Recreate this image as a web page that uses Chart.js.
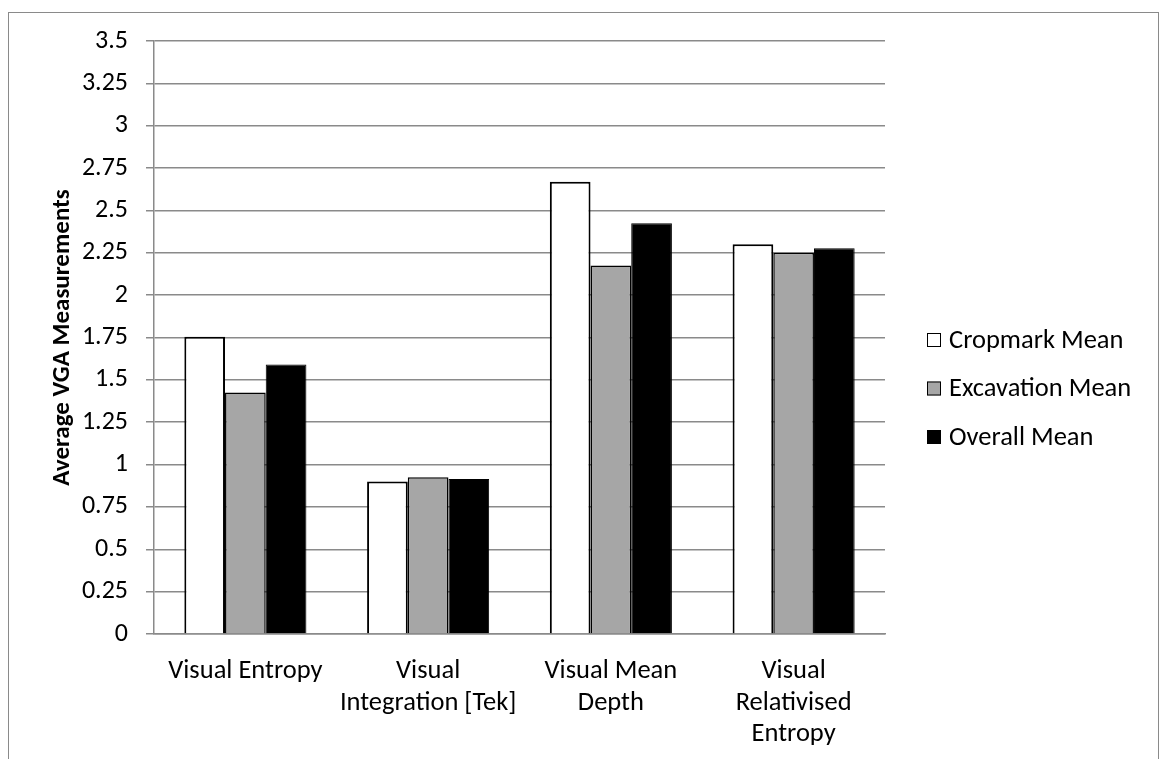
<!DOCTYPE html>
<html>
<head>
    <title>Average VGA Measurements</title>
    <script src="https://cdn.jsdelivr.net/npm/chart.js"></script>
    <style>
        body { margin: 0; background: #fff; overflow: hidden; }
        #frame { position: absolute; left: 8px; top: 12px; width: 1149px; height: 800px; border: 1.5px solid #8a8a8a; }
        #wrap { position: absolute; left: 0; top: 0; width: 1163px; height: 759px; }
    </style>
</head>
<body>
    <div id="frame"></div>
    <div id="wrap">
        <canvas id="vgaChart"></canvas>
    </div>

    <script>
        const categories = [
            'Visual Entropy',
            ['Visual', 'Integration [Tek]'],
            ['Visual Mean', 'Depth'],
            ['Visual', 'Relativised', 'Entropy']
        ];
        const cropmarkMean = [1.755, 0.90, 2.67, 2.30];
        const excavationMean = [1.425, 0.925, 2.175, 2.25];
        const overallMean = [1.59, 0.915, 2.425, 2.277];
        const yTicks = [0, 0.25, 0.5, 0.75, 1, 1.25, 1.5, 1.75, 2, 2.25, 2.5, 2.75, 3, 3.25, 3.5];

        const FONT = 'Carlito, Calibri, Lato, sans-serif';

        // legend drawn by hand so it sits where the original has it
        const sideLegend = {
            id: 'sideLegend',
            afterDraw(chart) {
                const ctx = chart.ctx;
                ctx.save();
                ctx.font = '26.5px ' + FONT;
                ctx.textBaseline = 'middle';
                chart.data.datasets.forEach((ds, i) => {
                    const y = 340 + i * 48.5;
                    ctx.fillStyle = ds.backgroundColor;
                    ctx.fillRect(927, y - 7, 14, 14);
                    ctx.strokeStyle = '#000';
                    ctx.lineWidth = 1;
                    ctx.strokeRect(927.5, y - 6.5, 13, 13);
                    ctx.fillStyle = '#000';
                    ctx.fillText(ds.label, 949, y + 1);
                });
                ctx.restore();
            }
        };

        const ctx = document.getElementById('vgaChart').getContext('2d');
        const vgaChart = new Chart(ctx, {
            type: 'bar',
            data: {
                labels: categories,
                datasets: [{
                    label: 'Cropmark Mean',
                    data: cropmarkMean,
                    backgroundColor: '#ffffff',
                    borderColor: '#000000',
                    borderWidth: 2
                }, {
                    label: 'Excavation Mean',
                    data: excavationMean,
                    backgroundColor: '#a6a6a6',
                    borderColor: '#000000',
                    borderWidth: 1.5
                }, {
                    label: 'Overall Mean',
                    data: overallMean,
                    backgroundColor: '#000000',
                    borderColor: '#000000',
                    borderWidth: 1
                }]
            },
            options: {
                responsive: true,
                maintainAspectRatio: false,
                animation: false,
                layout: { padding: { top: 41, right: 278, bottom: 0, left: 0 } },
                datasets: { bar: { categoryPercentage: 0.668, barPercentage: 1 } },
                plugins: {
                    legend: { display: false },
                    tooltip: { enabled: false }
                },
                scales: {
                    x: {
                        grid: { display: false, drawTicks: false },
                        border: { display: true, color: '#8a8a8a', width: 1.5 },
                        ticks: {
                            color: '#000',
                            padding: 22,
                            maxRotation: 0,
                            font: { family: FONT, size: 26.5, lineHeight: 1.19 }
                        },
                        afterFit: s => { s.height = 125; }
                    },
                    y: {
                        min: 0,
                        max: 3.5,
                        afterBuildTicks: s => { s.ticks = yTicks.map(v => ({ value: v })); },
                        grid: { color: '#8a8a8a', lineWidth: 1.5, tickLength: 8 },
                        border: { display: true, color: '#8a8a8a', width: 1.5 },
                        ticks: {
                            color: '#000',
                            padding: 18,
                            font: { family: FONT, size: 26 },
                            callback: v => String(v)
                        },
                        title: {
                            display: true,
                            text: 'Average VGA Measurements',
                            color: '#000',
                            padding: { top: 48, bottom: 0 },
                            font: { family: FONT, size: 25, weight: 'bold' }
                        },
                        afterFit: s => { s.width = 154; }
                    }
                }
            },
            plugins: [sideLegend]
        });
    </script>
</body>
</html>
